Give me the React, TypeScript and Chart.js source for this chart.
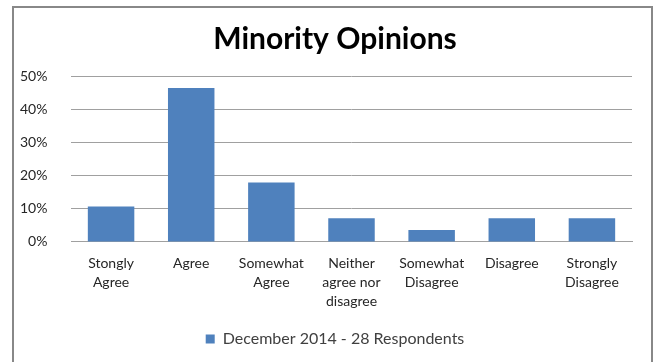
import React, { useEffect, useRef } from "react";
import { Chart, registerables } from "chart.js";

Chart.register(...registerables);

const categories: string[][] = [
  ["Stongly", "Agree"],
  ["Agree"],
  ["Somewhat", "Agree"],
  ["Neither", "agree nor", "disagree"],
  ["Somewhat", "Disagree"],
  ["Disagree"],
  ["Strongly", "Disagree"],
];
const seriesLabel = "December 2014 - 28 Respondents";
const values: number[] = [10.7, 46.4, 17.9, 7.1, 3.6, 7.1, 7.1];
const titleText = "Minority Opinions";

const FONT = "Lato, 'Noto Sans', sans-serif";

const framePlugin = {
  id: "frame",
  beforeDraw(chart: any) {
    const ctx = chart.ctx;
    ctx.save();
    ctx.fillStyle = "#ffffff";
    ctx.fillRect(0, 0, chart.width, chart.height);
    ctx.strokeStyle = "#888888";
    ctx.lineWidth = 2;
    ctx.strokeRect(13, 7, 639, 400);
    ctx.restore();
  },
};

export default function App() {
  const ref = useRef<HTMLCanvasElement>(null);
  useEffect(() => {
    if (!ref.current) return;
    const chart = new Chart(ref.current, {
      type: "bar",
      data: {
        labels: categories,
        datasets: [
          {
            label: seriesLabel,
            data: values,
            backgroundColor: "#4F81BD",
            borderWidth: 0,
            categoryPercentage: 1,
            barPercentage: 0.58,
          },
        ],
      },
      plugins: [framePlugin],
      options: {
        responsive: false,
        animation: false,
        layout: { padding: { left: 38, right: 25, top: 21, bottom: 5 } },
        plugins: {
          title: {
            display: true,
            text: titleText,
            color: "#000000",
            font: { family: FONT, size: 30, weight: "bold" },
            padding: { top: 0, bottom: 19 },
          },
          legend: {
            display: true,
            position: "bottom",
            labels: {
              color: "#404040",
              font: { family: FONT, size: 16 },
              boxWidth: 9,
              boxHeight: 9,
              padding: 8,
            },
          },
          tooltip: { enabled: false },
        },
        scales: {
          x: {
            grid: { display: false, drawTicks: false },
            border: { display: true, color: "#a0a0a0", width: 1 },
            ticks: {
              color: "#262626",
              font: { family: FONT, size: 14, lineHeight: 1.36 },
              maxRotation: 0,
              autoSkip: false,
              padding: 12,
            },
          },
          y: {
            min: 0,
            max: 50,
            grid: { color: "#a0a0a0", drawTicks: false },
            border: { display: false },
            afterFit: (scale: any) => {
              scale.width = 33;
            },
            ticks: {
              stepSize: 10,
              mirror: true,
              crossAlign: "far",
              color: "#262626",
              font: { family: FONT, size: 14 },
              padding: -51,
              callback: (v: any) => v + "%",
            },
          },
        },
      },
    });
    return () => chart.destroy();
  }, []);
  return (
    <div style={{ position: "absolute", left: 0, top: 0, width: 657, height: 362 }}>
      <canvas ref={ref} width={657} height={362} style={{ width: 657, height: 362 }} />
    </div>
  );
}
